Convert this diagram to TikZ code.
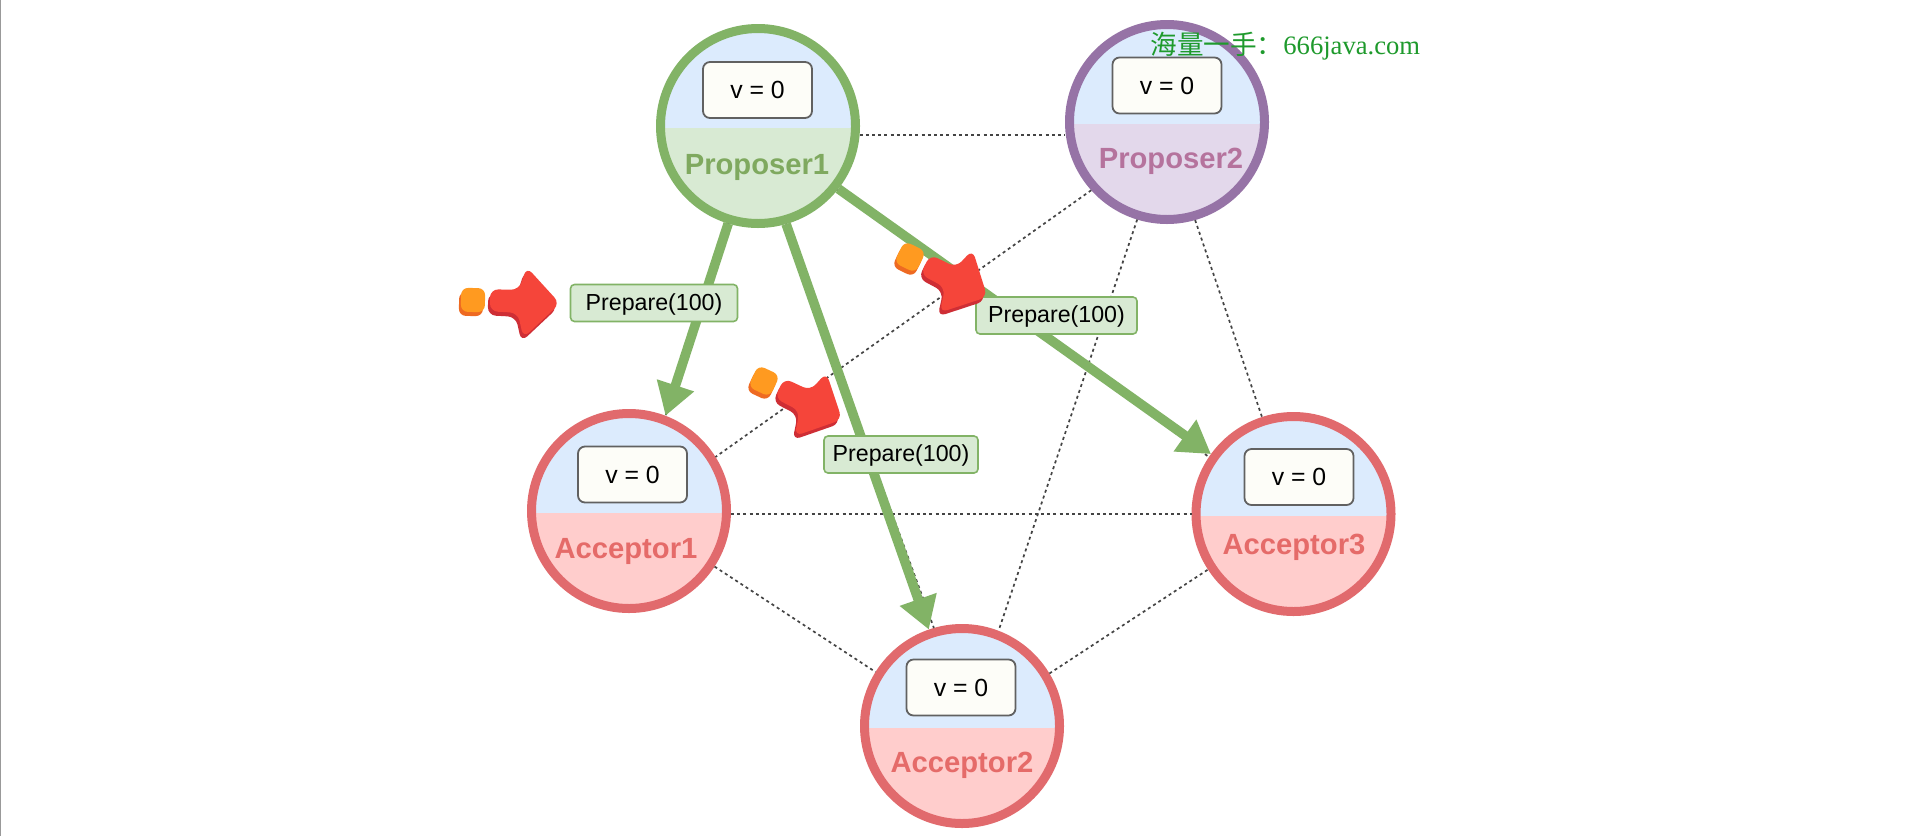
\documentclass[tikz,border=0pt]{standalone}
\usepackage{fontspec}
\setmainfont{Liberation Sans}
\newfontfamily\cjkfont{Noto Sans CJK SC}
\newfontfamily\wmserif{Liberation Serif}
\usetikzlibrary{arrows.meta}
\definecolor{cgreen}{HTML}{82B366}
\definecolor{cgreenfill}{HTML}{D8EAD3}
\definecolor{cgreentext}{HTML}{7FA95F}
\definecolor{cblue}{HTML}{DCEBFD}
\definecolor{cpurple}{HTML}{9673A6}
\definecolor{cpurplefill}{HTML}{E3D8EB}
\definecolor{cpurpletext}{HTML}{B5739D}
\definecolor{cred}{HTML}{E16A6D}
\definecolor{credfill}{HTML}{FFCDCC}
\definecolor{credtext}{HTML}{E56B69}
\definecolor{cboxfill}{HTML}{FDFDF8}
\definecolor{cdot}{HTML}{444444}
\definecolor{cptr}{HTML}{F5453A}
\definecolor{cptrdark}{HTML}{CE2E35}
\definecolor{corange}{HTML}{FF9A20}
\definecolor{corangedark}{HTML}{EE6A22}
\definecolor{cwm}{HTML}{1E9A2C}
\tikzset{
  halfcircle/.style n args={2}{circle,minimum size=97.5pt,inner sep=0pt,line width=4.5pt,draw=#1,
    path picture={
      \fill[cblue] (path picture bounding box.north west) rectangle ([yshift=-1pt]path picture bounding box.east);
      \fill[#2] ([yshift=-1pt]path picture bounding box.west) rectangle (path picture bounding box.south east);
    }},
  proposerone/.style={halfcircle={cgreen}{cgreenfill}},
  proposertwo/.style={halfcircle={cpurple}{cpurplefill}},
  acceptor/.style={halfcircle={cred}{credfill}},
  valbox/.style={draw=black!62,line width=0.9pt,fill=cboxfill,rounded corners=3.5pt,minimum width=54.5pt,minimum height=28pt,inner sep=0pt,font=\fontsize{12.4}{14}\selectfont},
  msgbox/.style={draw=cgreen,line width=0.8pt,fill=cgreenfill,rounded corners=2pt,minimum height=18.5pt,inner sep=0pt,text height=8.2pt,text depth=1.2pt,font=\fontsize{11.6}{13}\selectfont},
  nametext/.style={font=\bfseries\fontsize{14.6}{16}\selectfont,inner sep=0pt},
  dotline/.style={cdot,line width=0.85pt,dash pattern=on 1.5pt off 1.6pt},
  sendline/.style={cgreen,line width=4.8pt,-{Triangle[length=16pt,width=18.5pt]}},
}
\newcommand{\ptrshape}{(17,-11) -- (46,-11) -- (53,-34) -- (87,2) -- (51,37) -- (45,12) -- (17,11) -- cycle}
\newcommand{\dotshape}{(-12,-12) rectangle (12,12)}
\newcommand{\pointer}[3]{%
  \begin{scope}[shift={(#1,#2)}]
    \begin{scope}[shift={(-2,4)},rotate=-#3]
      \fill[corangedark,rounded corners=3.5pt] \dotshape;
      \fill[cptrdark,rounded corners=4pt] \ptrshape;
    \end{scope}
    \begin{scope}[rotate=-#3]
      \fill[corange,rounded corners=3.5pt] \dotshape;
      \fill[cptr,rounded corners=4pt] \ptrshape;
    \end{scope}
  \end{scope}}
\begin{document}
\begin{tikzpicture}[x=0.5pt,y=-0.5pt]
\useasboundingbox (0,0) rectangle (1920,836);
\fill[white] (0,0) rectangle (1920,836);
\fill[black!40] (0,0) rectangle (1,836);

% circles
\node[proposerone] (p1) at (758,126) {};
\node[proposertwo] (p2) at (1167,122) {};
\node[acceptor] (a1) at (629,511) {};
\node[acceptor] (a2) at (962,726) {};
\node[acceptor] (a3) at (1293.5,514) {};

% value boxes
\node[valbox] (v1) at (757.5,90) {v = 0};
\node[valbox] (v2) at (1167,85.5) {v = 0};
\node[valbox] (v3) at (632.5,474.5) {v = 0};
\node[valbox] (v4) at (961,687.5) {v = 0};
\node[valbox] (v5) at (1299,477) {v = 0};

% names
\node[nametext,text=cgreentext] (n1) at (757,167) {Proposer1};
\node[nametext,text=cpurpletext] (n2) at (1171,161) {Proposer2};
\node[nametext,text=credtext] (n3) at (626,551) {Acceptor1};
\node[nametext,text=credtext] (n4) at (962,765) {Acceptor2};
\node[nametext,text=credtext] (n5) at (1294,547) {Acceptor3};

% dotted links
\draw[dotline] (p1.-5.6) -- (p1.-5.6 -| p2.west);
\draw[dotline] (p2.222) -- (a1.32.5);
\draw[dotline] (p2.253.5) -- (a2.69);
\draw[dotline] (p2.286.5) -- (a3.108);
\draw[dotline] (a3.west -| a1.east) -- (a3.west);
\draw[dotline] (a1.-33) -- (a2.148.5);
\draw[dotline] (a2.31) -- (a3.213.6);
\draw[dotline] (p1.253) -- (a1.69);
\draw[dotline] (p1.286) -- (a2.106);
\draw[dotline] (p1.-39) -- (a3.146);

% green arrows
\draw[sendline] (p1.253.7) -- (a1.69);
\draw[sendline] (p1.286) -- (a2.109.7);
\draw[sendline] (p1.-38.5) -- (a3.144.6);

% labels
\node[msgbox,minimum width=83.5pt] (m1) at (654,303) {Prepare(100)};
\node[msgbox,minimum width=80.5pt] (m2) at (1056.5,315.5) {Prepare(100)};
\node[msgbox,minimum width=77pt] (m3) at (901,454.5) {Prepare(100)};

% pointers
\pointer{473}{300}{1}
\pointer{764}{381}{25}
\pointer{910}{257}{26}

% watermark
\node[anchor=west,inner sep=0pt,text=cwm,font=\fontsize{13.3}{15}\selectfont] (wm) at (1150,46) {{\cjkfont 海量一手：}{\wmserif 666java.com}};
\end{tikzpicture}
\end{document}
